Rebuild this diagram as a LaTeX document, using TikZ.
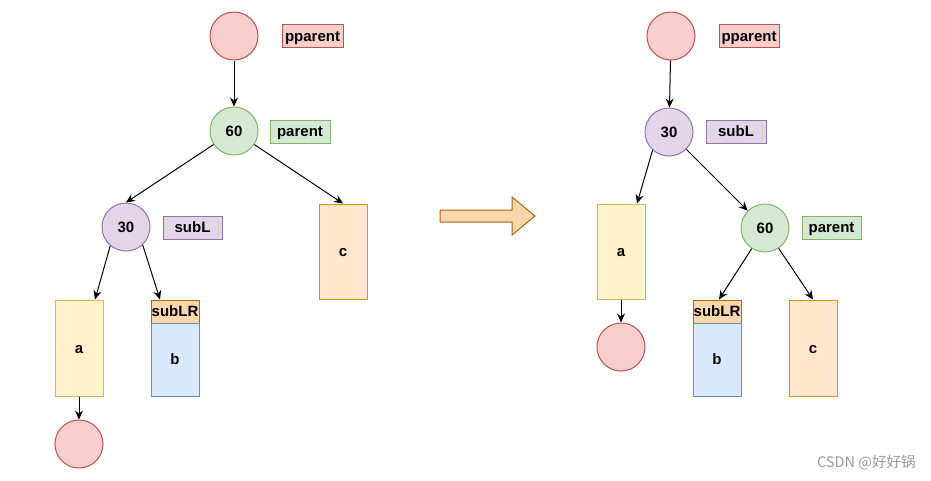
\documentclass[tikz,border=0pt]{standalone}
\usepackage{fontspec}
\setmainfont{Liberation Sans}
\newfontfamily\cjkfont{Noto Sans CJK SC}
\usetikzlibrary{arrows.meta,calc}
\definecolor{redF}{HTML}{F8CECC}\definecolor{redD}{HTML}{B85450}
\definecolor{greenF}{HTML}{D5E8D4}\definecolor{greenD}{HTML}{82B366}
\definecolor{purpF}{HTML}{E1D5E7}\definecolor{purpD}{HTML}{9673A6}
\definecolor{yelF}{HTML}{FFF2CC}\definecolor{yelD}{HTML}{D6B656}
\definecolor{orgF}{HTML}{FFE6CC}\definecolor{orgD}{HTML}{D79B00}
\definecolor{hdrF}{HTML}{FAD7AC}\definecolor{hdrD}{HTML}{B46504}
\definecolor{bluF}{HTML}{DAE8FC}\definecolor{bluD}{HTML}{6C8EBF}
\tikzset{
  every node/.style={font=\fontsize{15}{17}\selectfont\bfseries, inner sep=0pt, line width=1pt, text height=10.5pt, text depth=0pt},
  circ/.style={circle, minimum size=48pt},
  rednode/.style={circ, fill=redF, draw=redD},
  greennode/.style={circ, fill=greenF, draw=greenD},
  purpnode/.style={circ, fill=purpF, draw=purpD},
  lbl/.style={rectangle, minimum width=60pt, minimum height=23pt},
  redlbl/.style={lbl, fill=redF, draw=redD},
  greenlbl/.style={lbl, fill=greenF, draw=greenD},
  purplbl/.style={lbl, fill=purpF, draw=purpD},
  tallbox/.style={rectangle, minimum width=48pt, minimum height=96pt},
  abox/.style={tallbox, fill=yelF, draw=yelD},
  cbox/.style={tallbox, fill=orgF, draw=orgD},
  hdr/.style={rectangle, minimum width=48pt, minimum height=23pt, fill=hdrF, draw=hdrD},
  bbox/.style={rectangle, minimum width=48pt, minimum height=73pt, fill=bluF, draw=bluD},
  conn/.style={draw=black, line width=1pt, -{Stealth[length=9pt,width=8pt,inset=3pt]}}
}
\begin{document}
\begin{tikzpicture}[x=1pt,y=-1pt]
\useasboundingbox (0,0) rectangle (931,480);
% ---- left tree ----
\node[rednode] (Lpp) at (234,36) {};
\node[redlbl, minimum width=61pt] (Lppl) at (312.5,36) {pparent};
\node[greennode] (L60) at (234,131) {60};
\node[greenlbl] (L60l) at (300,131.5) {parent};
\node[purpnode] (L30) at (126,227) {30};
\node[purplbl, minimum width=59pt] (L30l) at (192.5,227.5) {subL};
\node[cbox, minimum height=95pt] (Lc) at (343,251.5) {c};
\node[abox] (La) at (79,348) {a};
\node[hdr] (Lh) at (175,311.5) {subLR};
\node[bbox] (Lb) at (175,359.5) {b};
\node[rednode] (Lbot) at (79,444) {};
\draw[conn] (Lpp) -- (L60);
\draw[conn] (L60) -- (L30.north);
\draw[conn] (L60) -- (Lc.north);
\draw[conn] (L30.-130) -- ($(La.north)+(16,0)$);
\draw[conn] (L30.-47) -- ($(Lh.north)+(-15,0)$);
\draw[conn] (La) -- (Lbot);
% ---- big arrow ----
\coordinate (arrS) at (440,216);
\draw[fill=hdrF, draw=hdrD, line width=1pt]
  (arrS) ++(0,-6) -- ++(72,0) -- ++(0,-13) -- ++(23,19) -- ++(-23,19) -- ++(0,-13) -- ++(-72,0) -- cycle;
% ---- right tree ----
\node[rednode] (Rpp) at (671,36) {};
\node[redlbl] (Rppl) at (749,36) {pparent};
\node[purpnode] (R30) at (669,132) {30};
\node[purplbl] (R30l) at (736,131.5) {subL};
\node[greennode] (R60) at (765,228) {60};
\node[greenlbl, minimum width=59pt] (R60l) at (831.5,227.5) {parent};
\node[abox, minimum height=95pt] (Ra) at (621,251.5) {a};
\node[rednode] (Rbot) at (621,347) {};
\node[hdr] (Rh) at (717,311.5) {subLR};
\node[bbox] (Rb) at (717,359.5) {b};
\node[cbox] (Rc) at (813,348) {c};
\draw[conn] (Rpp) -- (R30);
\draw[conn] (R30.-132) -- ($(Ra.north)+(16,0)$);
\draw[conn] (R30) -- (R60);
\draw[conn] (R60) -- ($(Rh.north)+(2,0)$);
\draw[conn] (R60) -- (Rc.north);
\draw[conn] (Ra) -- (Rbot);
% ---- watermark ----
\node[font=\fontsize{14.5}{16}\selectfont\cjkfont, text=black!40, anchor=east, text height=, text depth=] (wm) at (916,463) {CSDN @好好锅};
\end{tikzpicture}
\end{document}
